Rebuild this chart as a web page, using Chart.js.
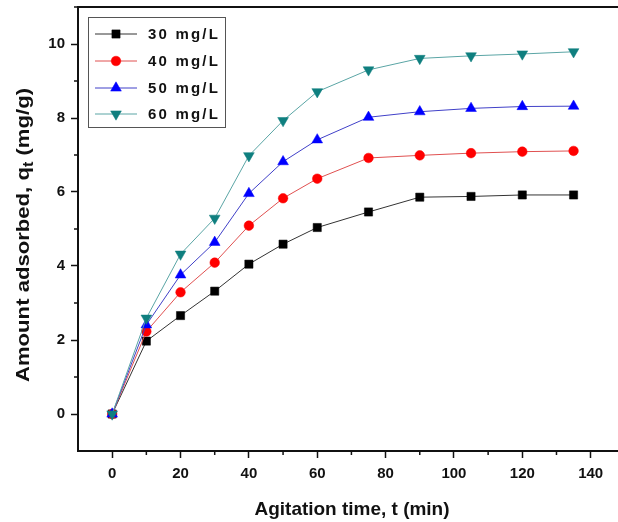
<!DOCTYPE html>
<html>
<head>
<meta charset="utf-8">
<script src="https://cdn.jsdelivr.net/npm/chart.js@4"></script>
<style>
  html, body { margin: 0; padding: 0; background: #fff; overflow: hidden; }
  #wrap { width: 618px; height: 522px; }
</style>
</head>
<body>
<div id="wrap"><canvas id="kinChart" width="618" height="522"></canvas></div>
<script>
// agitation time (min)
const times = [0, 10, 20, 30, 40, 50, 60, 75, 90, 105, 120, 135];

// amount adsorbed q_t (mg/g) per initial concentration
const q30 = [0, 1.97, 2.66, 3.32, 4.05, 4.59, 5.04, 5.46, 5.86, 5.88, 5.92, 5.92];
const q40 = [0, 2.23, 3.29, 4.09, 5.09, 5.83, 6.36, 6.92, 6.99, 7.05, 7.09, 7.11];
const q50 = [0, 2.41, 3.76, 4.64, 5.96, 6.82, 7.41, 8.02, 8.17, 8.26, 8.31, 8.32];
const q60 = [0, 2.59, 4.32, 5.29, 6.98, 7.93, 8.71, 9.30, 9.61, 9.68, 9.73, 9.79];

const seriesLabels = ['30 mg/L', '40 mg/L', '50 mg/L', '60 mg/L'];

const xTicks = [0, 20, 40, 60, 80, 100, 120, 140];
const yTicks = [0, 2, 4, 6, 8, 10];

const FONT = "'Liberation Sans', Arial, sans-serif";

function pts(ys) {
    return times.map((t, i) => ({ x: t, y: ys[i] }));
}

const styles = [
    { color: '#000000', line: '#333333', style: 'rect', radius: 5.8, rotation: 0 },
    { color: '#ff0000', line: '#e05050', style: 'circle', radius: 4.8, rotation: 0 },
    { color: '#0000ff', line: '#4040c8', style: 'triangle', radius: 6.2, rotation: 0 },
    { color: '#0f7f7f', line: '#5aa5a5', style: 'triangle', radius: 6.2, rotation: 180 }
];

// later series are drawn over earlier ones
const datasets = [q30, q40, q50, q60].map((ys, i) => ({
    label: seriesLabels[i],
    data: pts(ys),
    order: 3 - i,
    borderColor: styles[i].line,
    borderWidth: 1,
    backgroundColor: styles[i].color,
    pointBackgroundColor: styles[i].color,
    pointBorderColor: styles[i].color,
    pointBorderWidth: 0.5,
    pointStyle: styles[i].style,
    pointRadius: styles[i].radius,
    pointRotation: styles[i].rotation,
    tension: 0,
    clip: false
}));

// draws text squeezed/stretched to a given length, centred on (0,0)
function fitText(ctx, parts, len) {
    let total = 0;
    parts.forEach(p => { ctx.font = p.font; p.w = ctx.measureText(p.text).width; total += p.w; });
    const k = len / total;
    ctx.save();
    ctx.scale(k, 1);
    let cx = -total / 2;
    ctx.textAlign = 'left';
    ctx.textBaseline = 'alphabetic';
    parts.forEach(p => {
        ctx.font = p.font;
        ctx.fillText(p.text, cx, p.dy);
        cx += p.w;
    });
    ctx.restore();
}

// top frame line, minor ticks, axis titles and the boxed legend
const extras = {
    id: 'extras',
    afterDraw(chart) {
        const { ctx, chartArea: area, scales: { x, y } } = chart;
        ctx.save();

        ctx.strokeStyle = '#111';
        ctx.lineWidth = 2;
        ctx.beginPath();
        ctx.moveTo(area.left - 1, area.top);
        ctx.lineTo(area.right, area.top);
        ctx.stroke();

        ctx.lineWidth = 1.5;
        ctx.beginPath();
        for (let v = -10; v <= 150; v += 20) {
            const px = x.getPixelForValue(v);
            if (px < area.left + 1 || px > area.right) continue;
            ctx.moveTo(px, area.bottom);
            ctx.lineTo(px, area.bottom + 4);
        }
        for (let v = -1; v <= 11; v += 2) {
            const py = y.getPixelForValue(v);
            if (py < area.top || py > area.bottom - 1) continue;
            ctx.moveTo(area.left, py);
            ctx.lineTo(area.left - 4, py);
        }
        ctx.stroke();

        ctx.fillStyle = '#111';
        const big = 'bold 19px ' + FONT, small = 'bold 14px ' + FONT;

        // x title
        ctx.save();
        ctx.translate(352, 515);
        fitText(ctx, [{ text: 'Agitation time, t (min)', font: big, dy: 0 }], 195);
        ctx.restore();

        // y title with subscript t
        ctx.save();
        ctx.translate(29, 235);
        ctx.rotate(-Math.PI / 2);
        fitText(ctx, [
            { text: 'Amount adsorbed, q', font: big, dy: 0 },
            { text: 't', font: small, dy: 4 },
            { text: ' (mg/g)', font: big, dy: 0 }
        ], 294);
        ctx.restore();

        // legend
        ctx.strokeStyle = '#555';
        ctx.lineWidth = 1;
        ctx.strokeRect(88.5, 17.5, 137, 110);
        const rows = [34, 61, 88, 114];
        chart.data.datasets.forEach((ds, i) => {
            const ry = rows[i];
            ctx.strokeStyle = ds.borderColor;
            ctx.lineWidth = 1;
            ctx.beginPath();
            ctx.moveTo(95, ry);
            ctx.lineTo(137, ry);
            ctx.stroke();
            ctx.fillStyle = ds.pointBackgroundColor;
            ctx.strokeStyle = ds.pointBorderColor;
            ctx.lineWidth = 0.5;
            Chart.helpers.drawPoint(ctx, {
                pointStyle: ds.pointStyle,
                radius: ds.pointRadius,
                rotation: ds.pointRotation,
                borderWidth: 0.5
            }, 116, ry);
            ctx.fillStyle = '#111';
            ctx.font = 'bold 15px ' + FONT;
            ctx.letterSpacing = '2.2px';
            ctx.textAlign = 'left';
            ctx.textBaseline = 'middle';
            ctx.fillText(ds.label, 148, ry + 1);
            ctx.letterSpacing = '0px';
        });

        ctx.restore();
    }
};

new Chart(document.getElementById('kinChart').getContext('2d'), {
    type: 'line',
    data: { datasets: datasets },
    options: {
        responsive: false,
        animation: false,
        layout: { autoPadding: false, padding: { top: 7, right: 0, left: 0, bottom: 0 } },
        plugins: {
            legend: { display: false },
            tooltip: { enabled: false }
        },
        scales: {
            x: {
                type: 'linear',
                min: -10,
                max: 148,
                afterFit: s => { s.height = 71; s.paddingLeft = 0; s.paddingRight = 0; },
                afterBuildTicks: s => { s.ticks = xTicks.map(v => ({ value: v })); },
                grid: { drawOnChartArea: false, drawTicks: true, tickLength: 7, tickWidth: 1.5, tickColor: '#111' },
                border: { display: true, color: '#111', width: 2 },
                ticks: { color: '#111', padding: 7, maxRotation: 0, autoSkip: false, font: { family: FONT, size: 15, weight: 'bold' } }
            },
            y: {
                type: 'linear',
                min: -1,
                max: 11,
                afterFit: s => { s.width = 78; s.paddingTop = 0; s.paddingBottom = 0; },
                afterBuildTicks: s => { s.ticks = yTicks.map(v => ({ value: v })); },
                grid: { drawOnChartArea: false, drawTicks: true, tickLength: 7, tickWidth: 1.5, tickColor: '#111' },
                border: { display: true, color: '#111', width: 2 },
                ticks: { color: '#111', padding: 6, autoSkip: false, font: { family: FONT, size: 15, weight: 'bold' } }
            }
        }
    },
    plugins: [extras]
});
</script>
</body>
</html>
